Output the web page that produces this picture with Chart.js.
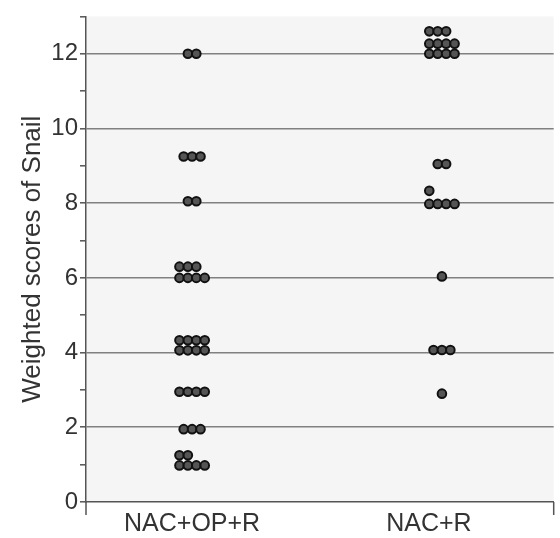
<!DOCTYPE html>
<html>
<head>
<meta charset="utf-8">
<script src="https://cdn.jsdelivr.net/npm/chart.js@4/dist/chart.umd.min.js"></script>
<style>
  html, body { margin: 0; padding: 0; background: #fff; }
  #wrap { width: 560px; height: 538px; }
</style>
</head>
<body>
<div id="wrap"><canvas id="dotPlot"></canvas></div>
<script>
// categories and where they sit on the x axis
const groups = ['NAC+OP+R', 'NAC+R'];
const labelPos = [1, 2];
const groupCenter = [1, 2.055];

// weighted scores, one entry per dot
const scoresNacOpR = [12, 12, 9.25, 9.25, 9.25, 8.05, 8.05, 6.3, 6.3, 6.3, 6, 6, 6, 6,
    4.33, 4.33, 4.33, 4.33, 4.06, 4.06, 4.06, 4.06, 2.95, 2.95, 2.95, 2.95,
    1.95, 1.95, 1.95, 1.25, 1.25, 0.98, 0.98, 0.98, 0.98];
const scoresNacR = [12.6, 12.6, 12.6, 12.27, 12.27, 12.27, 12.27, 12, 12, 12, 12,
    9.05, 9.05, 8.33, 7.98, 7.98, 7.98, 7.98, 6.04, 4.07, 4.07, 4.07, 2.9];

const yTicks = [0, 2, 4, 6, 8, 10, 12];

const dotGap = 0.0356; // horizontal gap between dots of equal value (x units)

// spread equal values sideways; rows close to a wider row line up on its left edge
function swarm(values, center) {
    const rows = [];
    values.forEach(v => {
        const r = rows.find(r => r.v === v);
        if (r) r.n++; else rows.push({ v: v, n: 1 });
    });
    const pts = [];
    rows.forEach(r => {
        const wider = rows.filter(o => o !== r && o.n > r.n && Math.abs(o.v - r.v) < 0.5);
        let start;
        if (wider.length) {
            const w = Math.max(...wider.map(o => o.n));
            start = center - (w - 1) / 2 * dotGap;
        } else {
            start = center - (r.n - 1) / 2 * dotGap;
        }
        for (let i = 0; i < r.n; i++) pts.push({ x: start + i * dotGap, y: r.v });
    });
    return pts;
}

const plotBg = {
    id: 'plotBg',
    beforeDraw(chart) {
        const { ctx, chartArea: a } = chart;
        ctx.save();
        ctx.fillStyle = '#f5f5f5';
        ctx.fillRect(a.left, a.top, a.right - a.left, a.bottom - a.top);
        ctx.restore();
    },
    afterDraw(chart) {
        // the little drops at both ends of the x axis
        const { ctx, chartArea: a } = chart;
        ctx.save();
        ctx.strokeStyle = '#555';
        ctx.lineWidth = 1.5;
        ctx.beginPath();
        ctx.moveTo(a.left, a.bottom);
        ctx.lineTo(a.left, a.bottom + 13);
        ctx.moveTo(a.right, a.bottom);
        ctx.lineTo(a.right, a.bottom + 13);
        ctx.stroke();
        ctx.restore();
    }
};

const dotStyle = {
    pointRadius: 4.3,
    pointHoverRadius: 4.3,
    backgroundColor: '#555',
    borderColor: '#111',
    borderWidth: 2,
    showLine: false
};

new Chart(document.getElementById('dotPlot'), {
    type: 'scatter',
    data: {
        datasets: [
            Object.assign({ label: groups[0], data: swarm(scoresNacOpR, groupCenter[0]) }, dotStyle),
            Object.assign({ label: groups[1], data: swarm(scoresNacR, groupCenter[1]) }, dotStyle)
        ]
    },
    options: {
        responsive: true,
        maintainAspectRatio: false,
        animation: false,
        layout: { padding: { top: 13, right: 2, left: 0, bottom: 0 } },
        plugins: { legend: { display: false }, tooltip: { enabled: false } },
        scales: {
            x: {
                type: 'linear',
                min: 0.552,
                max: 2.527,
                afterBuildTicks: s => { s.ticks = labelPos.map(v => ({ value: v })); },
                afterFit: s => { s.height = 36; },
                ticks: {
                    callback: (v) => groups[labelPos.indexOf(v)],
                    color: '#333',
                    padding: 7,
                    font: { family: 'Liberation Sans', size: 25 },
                    maxRotation: 0
                },
                grid: { display: true, drawOnChartArea: false, drawTicks: false },
                border: { color: '#555', width: 1.5 }
            },
            y: {
                min: 0,
                max: 13,
                afterBuildTicks: s => {
                    const t = [];
                    for (let v = 0; v <= 13; v++) t.push({ value: v });
                    s.ticks = t;
                },
                afterFit: s => { s.width = 86; },
                ticks: {
                    callback: v => (yTicks.includes(v) ? String(v) : ''),
                    color: '#333',
                    padding: 2,
                    font: { family: 'Liberation Sans', size: 24 }
                },
                grid: {
                    color: ctx => (ctx.tick && ctx.tick.value % 2 === 0 && ctx.tick.value > 0 ? '#808080' : 'rgba(0,0,0,0)'),
                    lineWidth: 1.6,
                    tickColor: '#555',
                    tickLength: 6,
                    tickWidth: 1.5
                },
                border: { color: '#555', width: 1.5 },
                title: {
                    display: true,
                    text: 'Weighted scores of Snail',
                    color: '#333',
                    font: { family: 'Liberation Sans', size: 26 },
                    padding: { top: 17, bottom: 0 }
                }
            }
        }
    },
    plugins: [plotBg]
});
</script>
</body>
</html>
